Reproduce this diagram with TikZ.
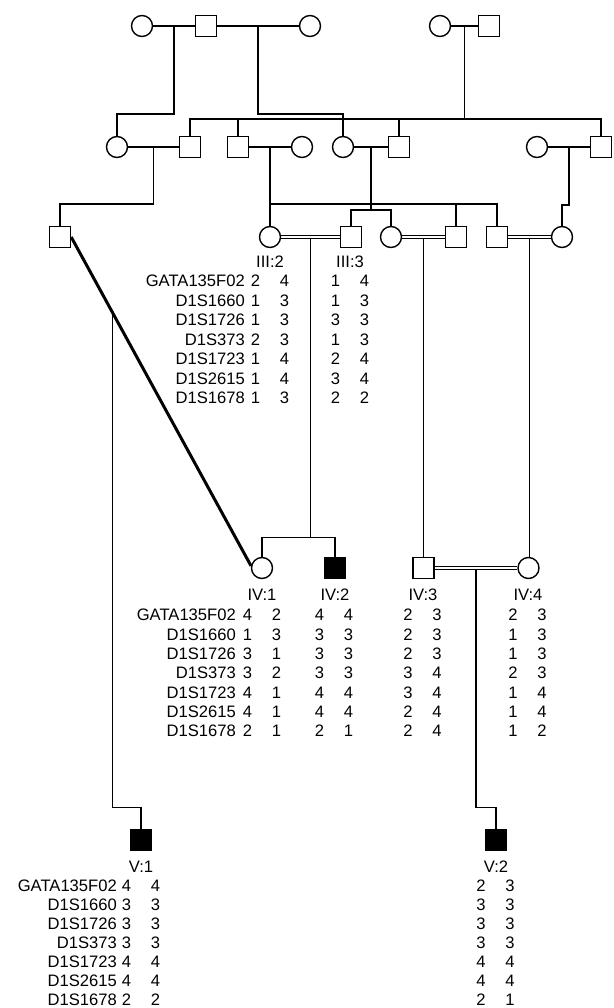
\documentclass[tikz,border=0pt]{standalone}
\usepackage{fontspec}
\setmainfont{Liberation Sans}
\usetikzlibrary{calc}
\newcommand\gtab[5]{%
  \foreach \a/\b [count=\i from 0] in {#5} {%
    \node[lbl] (#1a\i) at (#2-14.5,#3+#4*\i) {\a};
    \node[lbl] (#1b\i) at (#2+14.5,#3+#4*\i) {\b};}}
\newcommand\gnames[4]{%
  \foreach \m [count=\i from 0] in {GATA135F02,D1S1660,D1S1726,D1S373,D1S1723,D1S2615,D1S1678} {%
    \node[mk] (#1\i) at (#2,#3+#4*\i) {\m};}}
\newcommand\consline[2]{%
  \draw[cl] ([yshift=1.2pt]#1.east) -- ([yshift=1.2pt]#2.west);
  \draw[cl] ([yshift=-1.2pt]#1.east) -- ([yshift=-1.2pt]#2.west);}
\begin{document}
\begin{tikzpicture}[x=1pt,y=-1pt,
  male/.style={draw,line width=1.4pt,rectangle,minimum size=21pt,inner sep=0pt},
  female/.style={draw,line width=1.4pt,circle,minimum size=21pt,inner sep=0pt},
  aff/.style={fill=black},
  ln/.style={line width=1.1pt},
  cl/.style={line width=0.9pt},
  thk/.style={line width=3pt},
  lbl/.style={inner sep=0pt,font=\fontsize{16.6}{19}\selectfont},
  mk/.style={lbl,anchor=east}]
\fill[white] (0,0) rectangle (613,1008);
\useasboundingbox (0,0) rectangle (613,1008);
% Generation I
\node[female] (I1) at (142,26) {};
\node[male]   (I2) at (206,26) {};
\node[female] (I3) at (310,26) {};
\node[female] (I4) at (440,26) {};
\node[male]   (I5) at (489,26) {};
% Generation II
\node[female] (II1) at (117,147) {};
\node[male]   (II2) at (190,147) {};
\node[male]   (II3) at (238,147) {};
\node[female] (II4) at (302,147) {};
\node[female] (II5) at (343,147) {};
\node[male]   (II6) at (399,147) {};
\node[female] (II7) at (537,147) {};
\node[male]   (II8) at (601,147) {};
% Generation III
\node[male]   (III1) at (60,237) {};
\node[female] (III2) at (270,237) {};
\node[male]   (III3) at (351,237) {};
\node[female] (III4) at (391,237) {};
\node[male]   (III5) at (456,237) {};
\node[male]   (III6) at (497,237) {};
\node[female] (III7) at (562,237) {};
% Generation IV
\node[female]    (IV1) at (262,568) {};
\node[male,aff]  (IV2) at (335,568) {};
\node[male]      (IV3) at (423.5,568) {};
\node[female]    (IV4) at (528.5,568) {};
% Generation V
\node[male,aff] (V1) at (141,840) {};
\node[male,aff] (V2) at (496,840) {};

% matings gen I
\draw[ln] (I1) -- (I2);
\draw[ln] (I2) -- (I3);
\draw[ln] (I4) -- (I5);
\coordinate (m12) at ($(I1)!.5!(I2)$);
\coordinate (m23) at ($(I2)!.5!(I3)$);
\coordinate (m45) at ($(I4)!.5!(I5)$);
\draw[ln] (m12) -- ++(0,88) -| (II1.north);
\draw[ln] (m23) -- ++(0,88) -| (II5.north);
\draw[ln] (m45) -- ++(0,93) coordinate (s45);
\draw[ln] (II2.north) |- (s45) -| (II8.north);
\draw[ln] (II3.north) -- (II3.north |- s45);
\draw[ln] (II6.north) -- (II6.north |- s45);

% matings gen II
\draw[ln] (II1) -- (II2);
\draw[ln] (II3) -- (II4);
\draw[ln] (II5) -- (II6);
\draw[ln] (II7) -- (II8);
\coordinate (mA) at ($(II1)!.5!(II2)$);
\coordinate (mB) at ($(II3)!.5!(II4)$);
\coordinate (mC) at ($(II5)!.5!(II6)$);
\coordinate (mD) at ($(II7)!.5!(II8)$);
\draw[ln] (mA) -- ++(0,57) -| (III1.north);
\draw[ln] (mB) -- (III2.north);
\path (mB) ++(0,57) coordinate (sB);
\draw[ln] (sB) -| (III5.north);
\draw[ln] (sB) -| (III6.north);
\draw[ln] (mC) -- ++(0,63) coordinate (sC);
\draw[ln] (III3.north) |- (sC) -| (III4.north);
\draw[ln] (mD) -- ++(0,58) -| (III7.north);

% matings gen III (consanguineous)
\consline{III2}{III3}
\consline{III4}{III5}
\consline{III6}{III7}
\coordinate (mE) at ($(III2)!.5!(III3)+(0,1.2)$);
\coordinate (mF) at ($(III4)!.5!(III5)+(0,1.2)$);
\coordinate (mG) at ($(III6)!.5!(III7)+(0,1.2)$);
\draw[ln] (mE) -- ++(0,299) coordinate (sE);
\draw[ln] (IV1.north) |- (sE) -| (IV2.north);
\draw[ln] (mF) -- (IV3.north);
\draw[ln] (mG) -- (mG |- IV4.north);

% III:1 x IV:1
\draw[thk] (III1.east) -- (IV1.169);
\coordinate (mV) at ($(III1.east)!0.232!(IV1.169)$);
\draw[ln] (mV) |- ($(V1.north)+(0,-21)$) -| (V1.north);

% IV:3 x IV:4
\consline{IV3}{IV4}
\coordinate (mH) at ($(IV3)!.5!(IV4)+(0,1.2)$);
\draw[ln] (mH) |- ($(V2.north)+(0,-21)$) -| (V2.north);

% labels
\node[lbl] (lIII2) at (270,262) {III:2};
\node[lbl] (lIII3) at (350,262) {III:3};
\node[lbl] (lIV1) at (262,595) {IV:1};
\node[lbl] (lIV2) at (335,595) {IV:2};
\node[lbl] (lIV3) at (423,595) {IV:3};
\node[lbl] (lIV4) at (528,595) {IV:4};
\node[lbl] (lV1) at (141,867) {V:1};
\node[lbl] (lV2) at (496,867) {V:2};

% haplotype tables
\gnames{nIII}{245}{281}{19.5}
\gtab{tIIIa}{270}{281}{19.5}{2/4,1/3,1/3,2/3,1/4,1/4,1/3}
\gtab{tIIIb}{350}{281}{19.5}{1/4,1/3,3/3,1/3,2/4,3/4,2/2}
\gnames{nIV}{236}{615}{19.35}
\gtab{tIVa}{262}{615}{19.35}{4/2,1/3,3/1,3/2,4/1,4/1,2/1}
\gtab{tIVb}{334}{615}{19.35}{4/4,3/3,3/3,3/3,4/4,4/4,2/1}
\gtab{tIVc}{422.5}{615}{19.35}{2/3,2/3,2/3,3/4,3/4,2/4,2/4}
\gtab{tIVd}{527.5}{615}{19.35}{2/3,1/3,1/3,2/3,1/4,1/4,1/2}
\gnames{nV}{117}{885.5}{19}
\gtab{tVa}{141}{885.5}{19}{4/4,3/3,3/3,3/3,4/4,4/4,2/2}
\gtab{tVb}{495.5}{885.5}{19}{2/3,3/3,3/3,3/3,4/4,4/4,2/1}
\end{tikzpicture}
\end{document}
